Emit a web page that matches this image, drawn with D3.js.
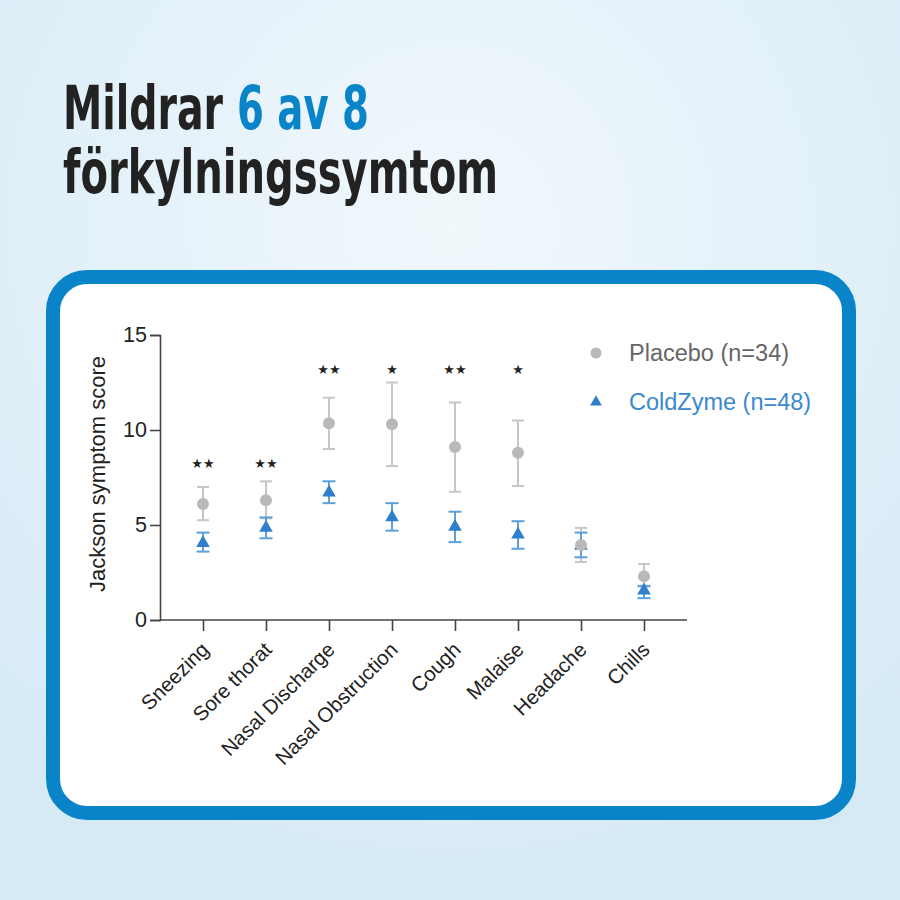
<!DOCTYPE html>
<html lang="sv">
<head>
<meta charset="utf-8">
<title>ColdZyme symptom chart</title>
<script src="https://cdn.jsdelivr.net/npm/d3@7"></script>
<style>
  html, body { margin: 0; padding: 0; }
  body { width: 900px; height: 900px; overflow: hidden; }
</style>
</head>
<body>
<script>
// symptom categories and mean scores with error bars
var symptoms = ["Sneezing", "Sore thorat", "Nasal Discharge", "Nasal Obstruction",
                "Cough", "Malaise", "Headache", "Chills"];

var placeboMean = [6.1, 6.3, 10.35, 10.3, 9.1, 8.8, 3.95, 2.3];
var placeboHigh = [7.0, 7.3, 11.7, 12.5, 11.45, 10.5, 4.85, 2.95];
var placeboLow  = [5.25, 5.35, 9.0, 8.1, 6.75, 7.05, 3.05, 1.75];

var coldzymeMean = [4.05, 4.85, 6.7, 5.4, 4.9, 4.5, 3.9, 1.55];
var coldzymeHigh = [4.6, 5.4, 7.3, 6.15, 5.7, 5.2, 4.6, 1.8];
var coldzymeLow  = [3.6, 4.3, 6.15, 4.7, 4.1, 3.75, 3.3, 1.15];

// significance marks and the score level they sit at
var stars  = ["★★", "★★", "★★", "★", "★★", "★", "", ""];
var starY  = [8.25, 8.25, 13.2, 13.2, 13.2, 13.2, 0, 0];

var yTicks = [0, 5, 10, 15];

var w = 900, h = 900;
var blue = "#0a84c9";

var svg = d3.select("body").append("svg")
  .attr("width", w)
  .attr("height", h);

// background gradient
var defs = svg.append("defs");
var grad = defs.append("radialGradient")
  .attr("id", "bg")
  .attr("cx", "50%").attr("cy", "25%").attr("r", "75%");
grad.append("stop").attr("offset", "0%").attr("stop-color", "#f1f8fc");
grad.append("stop").attr("offset", "100%").attr("stop-color", "#d6eaf6");

svg.append("rect").attr("width", w).attr("height", h).attr("fill", "url(#bg)");

// title, two lines
var titleFont = "'Liberation Sans Narrow', 'DejaVu Sans Condensed', 'Roboto', sans-serif";
function titleText(x, y, len, color, txt) {
  svg.append("text")
    .attr("x", x).attr("y", y)
    .attr("font-family", titleFont)
    .attr("font-weight", "bold")
    .attr("font-size", 61)
    .attr("fill", color)
    .attr("textLength", len)
    .attr("lengthAdjust", "spacingAndGlyphs")
    .text(txt);
}
titleText(63, 129, 160, "#222", "Mildrar");
titleText(237, 129, 132, blue, "6 av 8");
titleText(63, 193, 435, "#222", "förkylningssymtom");

// card
svg.append("rect")
  .attr("x", 53).attr("y", 277)
  .attr("width", 796).attr("height", 536)
  .attr("rx", 34).attr("ry", 34)
  .attr("fill", "#fff")
  .attr("stroke", blue)
  .attr("stroke-width", 14);

// scales
var xScale = d3.scalePoint()
  .domain(symptoms)
  .range([203, 644]);

var yScale = d3.scaleLinear()
  .domain([0, 15])
  .range([620, 335]);

var font = "'Liberation Sans', Arial, sans-serif";

// y axis
var yAxis = d3.axisLeft(yScale).tickValues(yTicks).tickSize(10).tickPadding(3);
var gy = svg.append("g")
  .attr("transform", "translate(160,0)")
  .call(yAxis);
gy.select(".domain").attr("stroke", "#444").attr("stroke-width", 1.6);
gy.selectAll(".tick line").attr("stroke", "#444").attr("stroke-width", 1.6);
gy.selectAll(".tick text")
  .attr("font-family", font)
  .attr("font-size", 21.5)
  .attr("fill", "#222");

// x axis
var xAxis = d3.axisBottom(xScale).tickSize(11).tickSizeOuter(0).tickFormat("");
var gx = svg.append("g")
  .attr("transform", "translate(0,620)")
  .call(xAxis);
gx.select(".domain")
  .attr("d", "M160,0H687")
  .attr("stroke", "#444").attr("stroke-width", 1.6);
gx.selectAll(".tick line").attr("stroke", "#444").attr("stroke-width", 1.6);

svg.append("g").selectAll("text")
  .data(symptoms)
  .enter().append("text")
  .attr("transform", function(d) {
    return "translate(" + (xScale(d) + 7) + ",651) rotate(-45)";
  })
  .attr("text-anchor", "end")
  .attr("font-family", font)
  .attr("font-size", 20.5)
  .attr("fill", "#222")
  .text(function(d) { return d; });

// y axis title
svg.append("text")
  .attr("transform", "translate(105,474) rotate(-90)")
  .attr("text-anchor", "middle")
  .attr("font-family", font)
  .attr("font-size", 22)
  .attr("fill", "#222")
  .text("Jackson symptom score");

// error bars
function errorBars(lo, hi, color, cap) {
  var g = svg.append("g").attr("stroke", color).attr("stroke-width", 2);
  symptoms.forEach(function(s, i) {
    var x = xScale(s);
    g.append("line").attr("x1", x).attr("x2", x)
      .attr("y1", yScale(lo[i])).attr("y2", yScale(hi[i]));
    g.append("line").attr("x1", x - cap).attr("x2", x + cap)
      .attr("y1", yScale(lo[i])).attr("y2", yScale(lo[i]));
    g.append("line").attr("x1", x - cap).attr("x2", x + cap)
      .attr("y1", yScale(hi[i])).attr("y2", yScale(hi[i]));
  });
}

var grey = "#b9b9b9";
var greyBar = "#c6c6c6";
var triBlue = "#2f7fcc";
var triBar = "#5aa0dc";

errorBars(placeboLow, placeboHigh, greyBar, 6);
errorBars(coldzymeLow, coldzymeHigh, triBar, 6.5);

var tri = d3.symbol().type(d3.symbolTriangle).size(80);

svg.append("g").selectAll("path")
  .data(coldzymeMean)
  .enter().append("path")
  .attr("d", tri)
  .attr("transform", function(d, i) {
    return "translate(" + xScale(symptoms[i]) + "," + yScale(d) + ")";
  })
  .attr("fill", triBlue);

svg.append("g").selectAll("circle")
  .data(placeboMean)
  .enter().append("circle")
  .attr("cx", function(d, i) { return xScale(symptoms[i]); })
  .attr("cy", function(d) { return yScale(d); })
  .attr("r", 6)
  .attr("fill", grey);

// significance stars
svg.append("g").selectAll("text")
  .data(stars)
  .enter().append("text")
  .attr("x", function(d, i) { return xScale(symptoms[i]); })
  .attr("y", function(d, i) { return yScale(starY[i]) + 5; })
  .attr("text-anchor", "middle")
  .attr("font-family", "'DejaVu Sans', sans-serif")
  .attr("font-size", 13)
  .attr("fill", "#222")
  .text(function(d) { return d; });

// legend
var legend = svg.append("g");
legend.append("circle")
  .attr("cx", 596).attr("cy", 353).attr("r", 5.5)
  .attr("fill", grey);
legend.append("text")
  .attr("x", 629).attr("y", 361)
  .attr("font-family", font)
  .attr("font-size", 23.5)
  .attr("fill", "#666")
  .text("Placebo (n=34)");
legend.append("path")
  .attr("d", d3.symbol().type(d3.symbolTriangle).size(60))
  .attr("transform", "translate(596,402)")
  .attr("fill", triBlue);
legend.append("text")
  .attr("x", 629).attr("y", 410)
  .attr("font-family", font)
  .attr("font-size", 23.5)
  .attr("fill", "#3b89cc")
  .text("ColdZyme (n=48)");
</script>
</body>
</html>
